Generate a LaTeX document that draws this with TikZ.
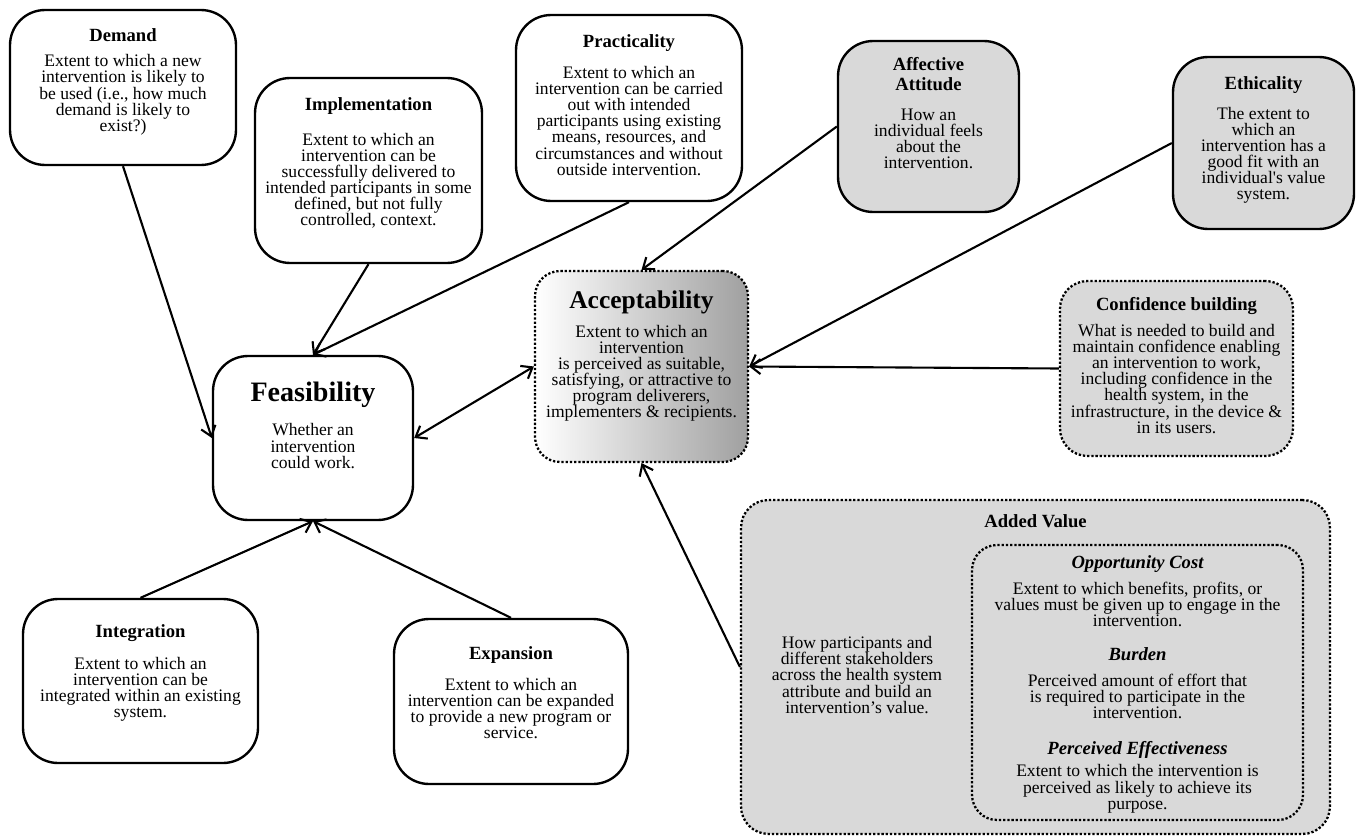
\documentclass[tikz,border=0pt]{standalone}
\usepackage{fontspec}
\setmainfont{Liberation Serif}
\usepackage{tikz}
\usetikzlibrary{arrows.meta,positioning}
\definecolor{panelgray}{RGB}{217,217,217}
\definecolor{shadegray}{RGB}{160,160,160}
\newcommand{\bodyfont}{\fontsize{10}{9.2}\selectfont\lineskiplimit=-4pt}
\newcommand{\ttl}[1]{{\fontsize{10.6}{11.4}\selectfont\bfseries #1}}
\newcommand{\ttlit}[1]{{\fontsize{10.6}{11.4}\selectfont\bfseries\itshape #1}}

\begin{document}
\begin{tikzpicture}[
  x=0.02cm, y=-0.02cm,
  font=\bodyfont,
  card/.style={draw, line width=1.35pt, rounded corners=0.7cm, inner sep=0pt, fill=white},
  greycard/.style={card, fill=panelgray},
  dotcard/.style={draw, line width=1.3pt, dash pattern=on 1.3pt off 1.1pt, rounded corners=0.55cm, inner sep=0pt, fill=panelgray},
  txt/.style={align=center, inner sep=0pt},
  arr/.style={-{Straight Barb[length=5.5pt,width=8.5pt]}, line width=1.2pt},
]
\useasboundingbox (0,0) rectangle (1356,838);

\node[card, minimum width=4.52cm, minimum height=3.1cm] (dem) at (123,87.5) {};
\node[txt, below=0.38cm of dem.north] (demT) {\ttl{Demand}\\[5.4pt]Extent to which a new\\intervention is likely to\\be used (i.e., how much\\demand is likely to\\exist?)};

\node[card, minimum width=4.54cm, minimum height=3.7cm] (impl) at (368.5,170.5) {};
\node[txt, below=0.4cm of impl.north] (implT) {\ttl{Implementation}\\[10.7pt]Extent to which an\\intervention can be\\successfully delivered to\\intended participants in some\\defined, but not fully\\controlled, context.};

\node[card, minimum width=4.52cm, minimum height=3.72cm] (prac) at (629,108) {};
\node[txt, below=0.4cm of prac.north] (pracT) {\ttl{Practicality}\\[8.5pt]Extent to which an\\intervention can be carried\\out with intended\\participants using existing\\means, resources, and\\circumstances and without\\outside intervention.};

\node[greycard, minimum width=3.62cm, minimum height=3.42cm] (aff) at (928.5,126.5) {};
\node[txt, below=0.34cm of aff.north] (affT) {\ttl{Affective}\\[2.2pt]\ttl{Attitude}\\[7.9pt]How an\\individual feels\\about the\\intervention.};

\node[greycard, minimum width=3.62cm, minimum height=3.44cm] (eth) at (1263.5,143) {};
\node[txt, below=0.4cm of eth.north] (ethT) {\ttl{Ethicality}\\[7.9pt]The extent to\\which an\\intervention has a\\good fit with an\\individual\textquotesingle s value\\system.};

\node[dotcard, fill=none, left color=white, right color=shadegray, minimum width=4.26cm, minimum height=3.82cm, rounded corners=0.5cm] (acc) at (641.5,366.5) {};
\node[txt, below=0.42cm of acc.north] (accT) {{\fontsize{14.5}{16}\selectfont\bfseries Acceptability}\\[6.8pt]Extent to which an\\intervention\\is perceived as suitable,\\satisfying, or attractive to\\program deliverers,\\implementers \& recipients.};

\node[dotcard, minimum width=4.66cm, minimum height=3.5cm] (conf) at (1176.5,368.5) {};
\node[txt, below=0.34cm of conf.north] (confT) {\ttl{Confidence building}\\[5.6pt]What is needed to build and\\maintain confidence enabling\\an intervention to work,\\including confidence in the\\health system, in the\\infrastructure, in the device \&\\in its users.};

\node[card, minimum width=4.0cm, minimum height=3.28cm] (feas) at (313,438) {};
\node[txt, below=0.54cm of feas.north] (feasT) {{\fontsize{16}{18}\selectfont\bfseries Feasibility}\\[10.3pt]Whether an\\intervention\\could work.};

\node[card, minimum width=4.7cm, minimum height=3.28cm] (integ) at (140.5,681) {};
\node[txt, below=0.52cm of integ.north] (integT) {\ttl{Integration}\\[9pt]Extent to which an\\intervention can be\\integrated within an existing\\system.};

\node[card, minimum width=4.68cm, minimum height=3.3cm] (expa) at (511,701.5) {};
\node[txt, below=0.56cm of expa.north] (expaT) {\ttl{Expansion}\\[8.5pt]Extent to which an\\intervention can be expanded\\to provide a new program or\\service.};

\node[dotcard, minimum width=11.78cm, minimum height=6.68cm] (av) at (1035.5,667) {};
\node[txt, below=0.3cm of av.north] (avT) {\ttl{Added Value}};
\node[txt] (avD) at (857,675) {How participants and\\different stakeholders\\across the health system\\attribute and build an\\intervention’s value.};
\node[dotcard, minimum width=6.62cm, minimum height=5.5cm, rounded corners=0.5cm] (avin) at (1137.5,682.5) {};
\node[txt, below=0.22cm of avin.north] (avinT) {\ttlit{Opportunity Cost}\\[5.6pt]Extent to which benefits, profits, or\\values must be given up to engage in the\\intervention.\\[10.2pt]\ttlit{Burden}\\[5.6pt]Perceived amount of effort that\\is required to participate in the\\intervention.\\[11.3pt]\ttlit{Perceived Effectiveness}\\[3.3pt]Extent to which the intervention is\\perceived as likely to achieve its\\purpose.};

\draw[arr] (dem.south) -- (feas.west);
\draw[arr] (impl.south) -- (feas.north);
\draw[arr] (prac.south) -- (feas.north);
\draw[arr] (integ.north) -- (feas.south);
\draw[arr] (expa.north) -- (feas.south);
\draw[arr, {Straight Barb[length=5.5pt,width=8.5pt]}-{Straight Barb[length=5.5pt,width=8.5pt]}] (feas.east) -- (acc.west);
\draw[arr] (aff.west) -- (acc.north);
\draw[arr] (eth.west) -- (acc.east);
\draw[arr] (conf.west) -- (acc.east);
\draw[arr] (av.west) -- (acc.south);
\end{tikzpicture}
\end{document}
